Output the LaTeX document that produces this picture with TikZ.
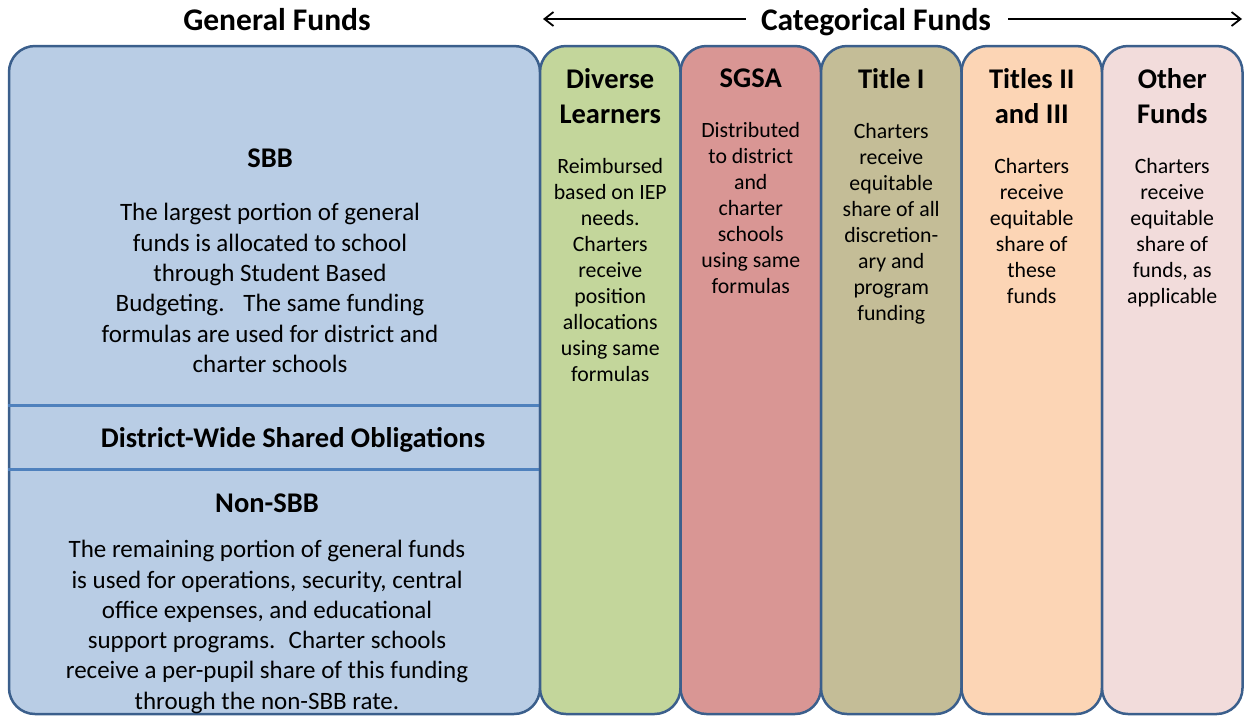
\documentclass[tikz,border=0pt]{standalone}
\usepackage{fontspec}
\setmainfont{Carlito}
\usepackage{xcolor}
\usepackage{tikz}
\usetikzlibrary{positioning, arrows.meta}
\definecolor{edgeblue}{HTML}{3B5F8C}
\definecolor{lineblue}{HTML}{4F81BD}
\definecolor{genfill}{HTML}{B9CDE5}
\definecolor{dlfill}{HTML}{C3D69B}
\definecolor{sgsafill}{HTML}{D99694}
\definecolor{tonefill}{HTML}{C4BD97}
\definecolor{ttwofill}{HTML}{FCD5B5}
\definecolor{othfill}{HTML}{F2DCDB}
\tikzstyle{fundbox} = [draw=edgeblue, line width=2.5pt, rounded corners=26pt, minimum height=668pt, inner sep=0pt]
\tikzstyle{colbox} = [fundbox, minimum width=140.5pt]
\tikzstyle{colhead} = [align=center, inner sep=0pt, font=\fontsize{28.5}{35}\selectfont\bfseries]
\tikzstyle{coltext} = [align=center, inner sep=0pt, font=\fontsize{21.8}{26}\selectfont]
\tikzstyle{genhead} = [align=center, inner sep=0pt, font=\fontsize{28.5}{34}\selectfont\bfseries]
\tikzstyle{gentext} = [align=center, inner sep=0pt, font=\fontsize{25}{30.3}\selectfont]
\tikzstyle{title} = [inner sep=0pt, font=\fontsize{31.5}{34}\selectfont\bfseries]
\tikzstyle{arrow} = [line width=1.8pt, -{Straight Barb[length=9pt, width=14pt]}]

\begin{document}
\begin{tikzpicture}[x=1pt, y=-1pt]
    \useasboundingbox (0,0) rectangle (1246,716);
    % titles
    \node[title, anchor=base] (genttl) at (277,30) {General Funds};
    \node[title, anchor=base] (catttl) at (876,30) {Categorical Funds};
    \coordinate (catL) at (543,19);
    \coordinate (catR) at (1242,19);
    \draw[arrow] (catttl.west |- catL) ++(-15pt,0) -- (catL);
    \draw[arrow] (catttl.east |- catR) ++(17pt,0) -- (catR);
    % general funds box
    \node[fundbox, fill=genfill, minimum width=531pt] (gen) at (274.5,380) {};
    \draw[lineblue, line width=3pt] (gen.west |- 0,405) -- (gen.east |- 0,405);
    \draw[lineblue, line width=3pt] (gen.west |- 0,469) -- (gen.east |- 0,469);
    \node[genhead] (sbb) at (270,158) {SBB};
    \node[gentext] (sbbtxt) at (270,288) {The largest portion of general\\funds is allocated to school\\through Student Based\\Budgeting.~~ The same funding\\formulas are used for district and\\charter schools};
    \node[genhead] (dwso) at (293,440) {District-Wide Shared Obligations};
    \node[genhead] (nsbb) at (267,503) {Non-SBB};
    \node[gentext] (nsbbtxt) at (267,627) {The remaining portion of general funds\\is used for operations, security, central\\office expenses, and educational\\support programs.~ Charter schools\\receive a per-pupil share of this funding\\through the non-SBB rate.};
    % categorical columns
    \node[colbox, fill=dlfill] (dl) at (610.25,380) {};
    \node[colbox, fill=sgsafill] (sgsa) at (750.75,380) {};
    \node[colbox, fill=tonefill] (tone) at (891.25,380) {};
    \node[colbox, fill=ttwofill] (ttwo) at (1031.75,380) {};
    \node[colbox, fill=othfill] (oth) at (1172.25,380) {};
    \node[colhead, anchor=north] (dlh) at (610.25,68) {Diverse\\Learners};
    \node[coltext, below=35pt of dlh] (dltxt) {Reimbursed\\based on IEP\\needs.\\Charters\\receive\\position\\allocations\\using same\\formulas};
    \node[colhead, anchor=north] (sgsah) at (750.75,69) {SGSA};
    \node[coltext, below=34pt of sgsah] (sgsatxt) {Distributed\\to district\\and\\charter\\schools\\using same\\formulas};
    \node[colhead, anchor=north] (toneh) at (891.25,68) {Title I};
    \node[coltext, below=35pt of toneh] (tonetxt) {Charters\\receive\\equitable\\share of all\\discretion-\\ary and\\program\\funding};
    \node[colhead, anchor=north] (ttwoh) at (1031.75,68) {Titles II\\and III};
    \node[coltext, below=35pt of ttwoh] (ttwotxt) {Charters\\receive\\equitable\\share of\\these\\funds};
    \node[colhead, anchor=north] (othh) at (1172.25,68) {Other\\Funds};
    \node[coltext, below=35pt of othh] (othtxt) {Charters\\receive\\equitable\\share of\\funds, as\\applicable};
\end{tikzpicture}
\end{document}
